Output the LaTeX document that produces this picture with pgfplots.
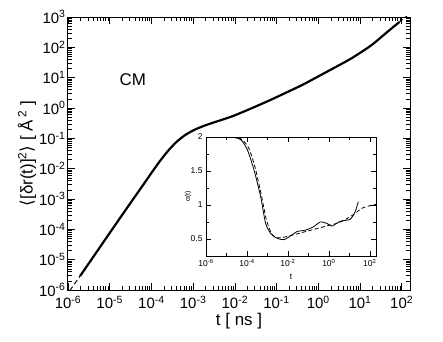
\documentclass[border=0pt]{standalone}
\usepackage{fontspec}
\setmainfont{Liberation Sans}
\newfontfamily\dejavu{DejaVu Sans}
\usepackage{pgfplots}
\pgfplotsset{compat=1.18}

\pgfplotstableread{
t        msd
1.95e-6  2.88e-6
3.98e-6  1.20e-5
1.00e-5  7.59e-5
2.00e-5  3.02e-4
3.98e-5  1.17e-3
7.08e-5  3.63e-3
1.00e-4  7.24e-3
1.58e-4  1.74e-2
2.51e-4  3.89e-2
3.98e-4  7.59e-2
6.31e-4  0.126
1.00e-3  0.182
1.58e-3  0.240
2.51e-3  0.302
3.98e-3  0.372
6.31e-3  0.457
1.00e-2  0.575
1.91e-2  0.832
3.98e-2  1.29
6.76e-2  1.78
0.178    3.31
0.427    5.89
1.0      11.0
2.69     22.9
6.31     43.7
16.8     105
25.1     162
35.1     240
60.3     447
87.1     676
}\msdsim

\pgfplotstableread{
t        msd
1.10e-6  9.5e-7
1.95e-6  2.88e-6
}\msdfitA

\pgfplotstableread{
t        msd
60.3     447
87.1     676
158      1320
}\msdfitB

\pgfplotstableread{
t        a
2.0e-6   2.00
1.58e-5  2.00
5.01e-5  1.96
1.05e-4  1.81
2.24e-4  1.51
4.68e-4  1.12
8.13e-4  0.73
1.45e-3  0.58
3.02e-3  0.51
6.31e-3  0.49
1.26e-2  0.54
2.82e-2  0.61
7.08e-2  0.63
0.178    0.68
0.380    0.75
0.794    0.73
1.41     0.69
3.55     0.76
11.0     0.79
19.1     0.90
27.5     1.05
}\alphasim

\pgfplotstableread{
t        a
1.0e-6   2.00
3.16e-5  1.99
6.31e-5  1.95
1.26e-4  1.83
2.51e-4  1.55
5.01e-4  1.15
8.91e-4  0.78
1.58e-3  0.58
2.51e-3  0.52
5.01e-3  0.52
1.0e-2   0.54
0.1      0.62
1.0      0.70
3.16     0.74
10       0.82
20       0.88
39.8     0.95
100      0.99
200      1.01
}\alphafit

\begin{document}
\begin{tikzpicture}
\path[use as bounding box] (-68bp,-52bp) rectangle (375bp,290bp);
\begin{axis}[
  at={(0,0)}, anchor=south west,
  scale only axis, width=342bp, height=273bp,
  xmode=log, ymode=log,
  xmin=1e-6, xmax=158, ymin=1e-6, ymax=1e3,
  xtick={1e-6,1e-5,1e-4,1e-3,1e-2,1e-1,1,10,100},
  xticklabels={10\textsuperscript{-6},10\textsuperscript{-5},10\textsuperscript{-4},10\textsuperscript{-3},10\textsuperscript{-2},10\textsuperscript{-1},10\textsuperscript{0},10\textsuperscript{1},10\textsuperscript{2}},
  ytick={1e-6,1e-5,1e-4,1e-3,1e-2,1e-1,1,10,100,1000},
  yticklabels={10\textsuperscript{-6},10\textsuperscript{-5},10\textsuperscript{-4},10\textsuperscript{-3},10\textsuperscript{-2},10\textsuperscript{-1},10\textsuperscript{0},10\textsuperscript{1},10\textsuperscript{2},10\textsuperscript{3}},
  axis line style={line width=1pt},
  every tick/.style={black, line width=0.6pt},
  major tick length=7bp, minor tick length=4bp,
  tick label style={font=\fontsize{15}{18}\selectfont},
  xticklabel style={yshift=-2.5bp},
  yticklabel style={xshift=1bp},
  xlabel={t [ ns ]},
  ylabel={{\dejavu ⟨}[δr(t)]\textsuperscript{2}{\dejavu ⟩} [ Å\,\textsuperscript{2} ]},
  label style={font=\fontsize{17}{20}\selectfont},
  xlabel style={at={(axis description cs:0.5,-0.115)}, anchor=center},
  ylabel style={at={(axis description cs:-0.12,0.5)}, anchor=center},
]
\addplot[black, line width=1pt, dash pattern=on 5bp off 3bp] table[x=t,y=msd] {\msdfitA};
\addplot[black, line width=1pt, dash pattern=on 5bp off 3bp] table[x=t,y=msd] {\msdfitB};
\addplot[black, line width=2.2pt, smooth, tension=0.4] table[x=t,y=msd] {\msdsim};
\node[font=\fontsize{17}{20}\selectfont] at (axis cs:3.6e-5,8.5) {CM};
\end{axis}

\begin{axis}[
  at={(138bp,34bp)}, anchor=south west,
  scale only axis, width=170bp, height=119bp,
  axis background/.style={fill=white},
  xmode=log,
  xmin=1e-6, xmax=200, ymin=0.25, ymax=2,
  xtick={1e-6,1e-4,1e-2,1,100},
  xticklabels={10\textsuperscript{-6},10\textsuperscript{-4},10\textsuperscript{-2},10\textsuperscript{0},10\textsuperscript{2}},
  minor xtick={1e-5,1e-3,1e-1,10},
  ytick={0.5,1,1.5,2},
  minor ytick={0.75,1.25,1.75},
  /pgf/number format/assume math mode=true,
  axis line style={line width=0.8pt},
  every tick/.style={black, line width=0.5pt},
  major tick length=5bp, minor tick length=3bp,
  tick label style={font=\fontsize{8.5}{10}\selectfont},
  xlabel={t}, ylabel={α(t)},
  xlabel style={font=\fontsize{8.5}{10}\selectfont, at={(axis description cs:0.5,-0.175)}, anchor=center},
  ylabel style={font=\fontsize{7}{8}\selectfont, at={(axis description cs:-0.105,0.5)}, anchor=center},
]
\addplot[black, line width=0.8pt, dash pattern=on 4bp off 2.5bp, smooth, tension=0.4] table[x=t,y=a] {\alphafit};
\addplot[black, line width=0.8pt, smooth, tension=0.4] table[x=t,y=a] {\alphasim};
\end{axis}
\end{tikzpicture}
\end{document}
